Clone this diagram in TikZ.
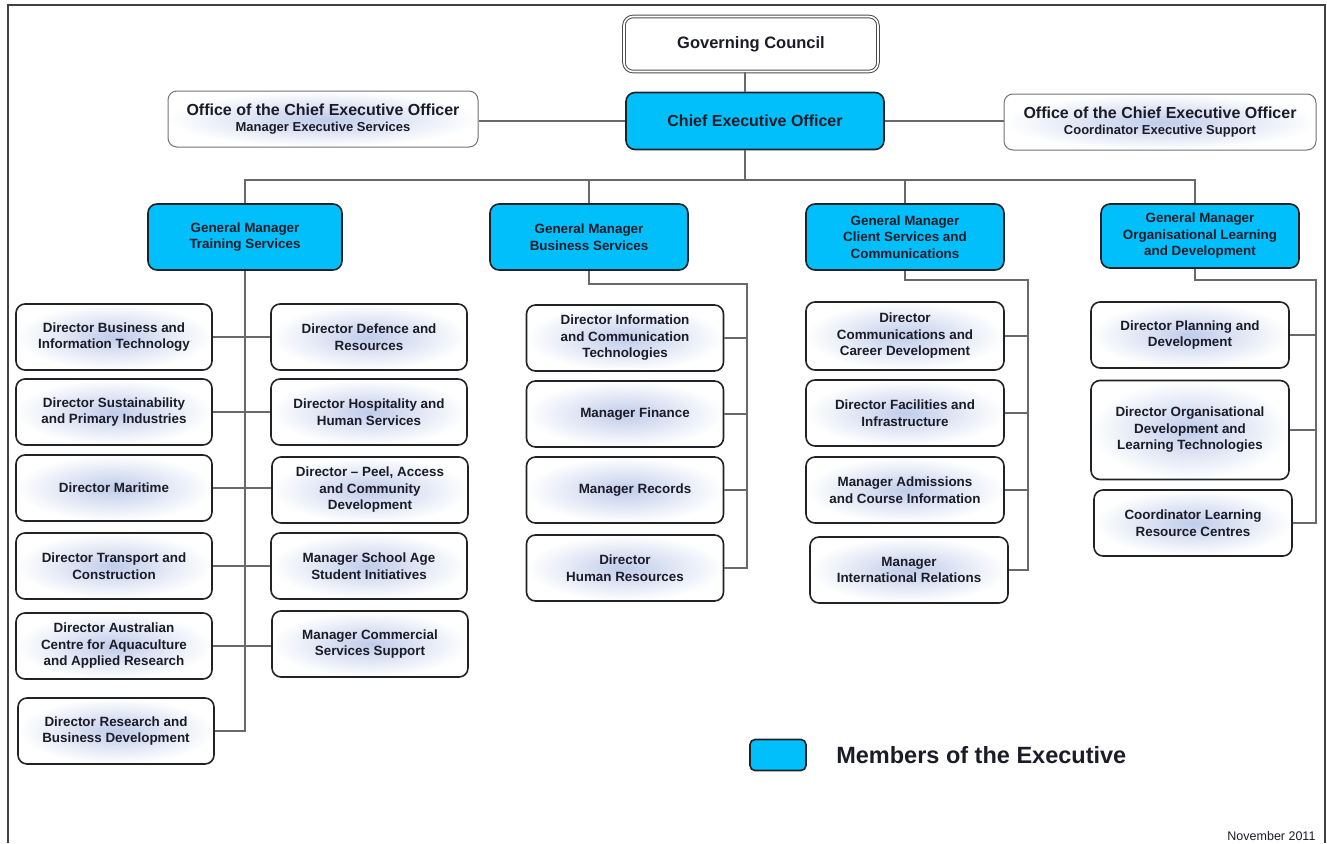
\documentclass[tikz,border=0pt]{standalone}
\usepackage{fontspec}
\setmainfont{Liberation Sans}
\usepackage{tikz}
\usetikzlibrary{positioning,calc}
\definecolor{execblue}{RGB}{0,191,250}
\definecolor{glow}{RGB}{192,204,234}
\definecolor{ink}{RGB}{28,28,40}
\definecolor{boxline}{RGB}{34,34,38}
\definecolor{linkgray}{RGB}{105,105,105}
\newcommand\boxfont{\fontsize{13.4}{16.5}\selectfont\bfseries}
\tikzstyle{post}=[draw=boxline,line width=1.6pt,rounded corners=9pt,align=center,text=ink,font=\boxfont,minimum width=196pt,minimum height=66pt,inner sep=2pt]
\tikzstyle{staff}=[post,inner color=glow,outer color=white]
\tikzstyle{exec}=[post,fill=execblue]
\tikzstyle{link}=[draw=linkgray,line width=1.4pt]
\begin{document}
\begin{tikzpicture}[x=1pt,y=-1pt]
\useasboundingbox (0,0) rectangle (1327,843);
\draw[draw=black!75,line width=1.2pt] (8,843) -- (8,5) -- (1325,5) -- (1325,843);

\node [post,draw=black!70,double=white,double distance=1.6pt,line width=1pt,minimum width=254pt,minimum height=55pt,font=\fontsize{16.5}{18}\selectfont\bfseries] (gc) at (751,44) {Governing Council};
\node [exec,minimum width=258pt,minimum height=57pt,font=\fontsize{16}{18}\selectfont\bfseries] (ceo) at (755,121) {Chief Executive Officer};
\node [staff,draw=black!55,line width=1pt,minimum width=310pt,minimum height=56pt,font=\fontsize{16}{16.5}\selectfont\bfseries] (offl) at (323,119) {Office of the Chief Executive Officer\\{\fontsize{13}{14}\selectfont Manager Executive Services}};
\node [staff,draw=black!55,line width=1pt,minimum width=312pt,minimum height=56pt,font=\fontsize{16}{16.5}\selectfont\bfseries] (offr) at (1160,122) {Office of the Chief Executive Officer\\{\fontsize{13}{14}\selectfont Coordinator Executive Support}};

\node [exec,minimum width=194pt] (gmt) at (245,237) {General Manager\\Training Services};
\node [exec,minimum width=198pt] (gmb) at (589,237) {General Manager\\Business Services};
\node [exec,minimum width=198pt] (gmc) at (905,237) {General Manager\\Client Services and\\Communications};
\node [exec,minimum width=198pt,minimum height=64pt] (gmo) at (1200,236) {General Manager\\Organisational Learning\\and Development};

\node [staff] (dbit) at (114,337) {Director Business and\\Information Technology};
\node [staff] (dspi) at (114,412) {Director Sustainability\\and Primary Industries};
\node [staff] (dmar) at (114,488) {Director Maritime};
\node [staff] (dtc) at (114,566) {Director Transport and\\Construction};
\node [staff] (dacaar) at (114,646) {Director Australian\\Centre for Aquaculture\\and Applied Research};
\node [staff] (drbd) at (116,731) {Director Research and\\Business Development};
\node [staff] (ddr) at (369,337) {Director Defence and\\Resources};
\node [staff] (dhhs) at (369,412) {Director Hospitality and\\Human Services};
\node [staff] (dpeel) at (370,490) {Director -- Peel, Access\\and Community\\Development};
\node [staff] (msasi) at (369,566) {Manager School Age\\Student Initiatives};
\node [staff] (mcss) at (370,644) {Manager Commercial\\Services Support};

\node [staff,minimum width=197pt] (dict) at (625,338) {Director Information\\and Communication\\Technologies};
\node [staff,minimum width=197pt] (mfin) at (625,414) {\hspace*{20pt}Manager Finance};
\node [staff,minimum width=197pt] (mrec) at (625,490) {\hspace*{20pt}Manager Records};
\node [staff,minimum width=197pt] (dhr) at (625,568) {Director\\Human Resources};

\node [staff,minimum width=198pt,minimum height=68pt] (dccd) at (905,336) {Director\\Communications and\\Career Development};
\node [staff,minimum width=198pt] (dfi) at (905,413) {Director Facilities and\\Infrastructure};
\node [staff,minimum width=198pt] (maci) at (905,490) {Manager Admissions\\and Course Information};
\node [staff,minimum width=198pt] (mir) at (909,570) {Manager\\International Relations};

\node [staff,minimum width=198pt] (dpd) at (1190,335) {Director Planning and\\Development};
\node [staff,minimum width=198pt,minimum height=99pt] (dodlt) at (1190,430) {Director Organisational\\Development and\\Learning Technologies};
\node [staff,minimum width=198pt] (clrc) at (1193,523) {Coordinator Learning\\Resource Centres};

\coordinate (trunk) at (745,180);
\draw [link] (trunk |- gc.south) -- (trunk |- ceo.north);
\draw [link] (trunk |- ceo.south) -- (trunk);
\draw [link] (offl.east |- ceo.west) -- (ceo.west);
\draw [link] (ceo.east) -- (ceo.east -| offr.west);
\draw [link] (gmt.north) |- ([xshift=-5pt]gmo.north |- trunk) -- ([xshift=-5pt]gmo.north);
\draw [link] (gmb.north) -- (gmb.north |- trunk);
\draw [link] (gmc.north) -- (gmc.north |- trunk);

\draw [link] (gmt.south) -- (gmt.south |- drbd.east) -- (drbd.east);
\draw [link] (dbit) -- (ddr);
\draw [link] (dspi) -- (dhhs);
\draw [link] (dmar) -- (dmar -| dpeel.west);
\draw [link] (dtc) -- (msasi);
\draw [link] (dacaar) -- (dacaar -| mcss.west);

\coordinate (bb) at (747,284);
\draw [link] (gmb.south) |- (bb) -- (bb |- dhr.east) -- (dhr.east);
\draw [link] (dict.east) -- (dict.east -| bb);
\draw [link] (mfin.east) -- (mfin.east -| bb);
\draw [link] (mrec.east) -- (mrec.east -| bb);

\coordinate (cb) at (1028,280);
\draw [link] (gmc.south) |- (cb) -- (cb |- mir.east) -- (mir.east);
\draw [link] (dccd.east) -- (dccd.east -| cb);
\draw [link] (dfi.east) -- (dfi.east -| cb);
\draw [link] (maci.east) -- (maci.east -| cb);

\coordinate (ob) at (1316,280);
\draw [link] ([xshift=-5pt]gmo.south) |- (ob) -- (ob |- clrc.east) -- (clrc.east);
\draw [link] (dpd.east) -- (dpd.east -| ob);
\draw [link] (dodlt.east) -- (dodlt.east -| ob);

\node [exec,minimum width=56pt,minimum height=31pt,rounded corners=5pt] (key) at (778,755) {};
\node [right=26pt of key,font=\fontsize{23.5}{25}\selectfont\bfseries,text=ink] (keytext) {Members of the Executive};
\node [anchor=east,font=\fontsize{12.5}{14}\selectfont,text=ink] (date) at (1319,836) {November 2011};
\end{tikzpicture}
\end{document}
